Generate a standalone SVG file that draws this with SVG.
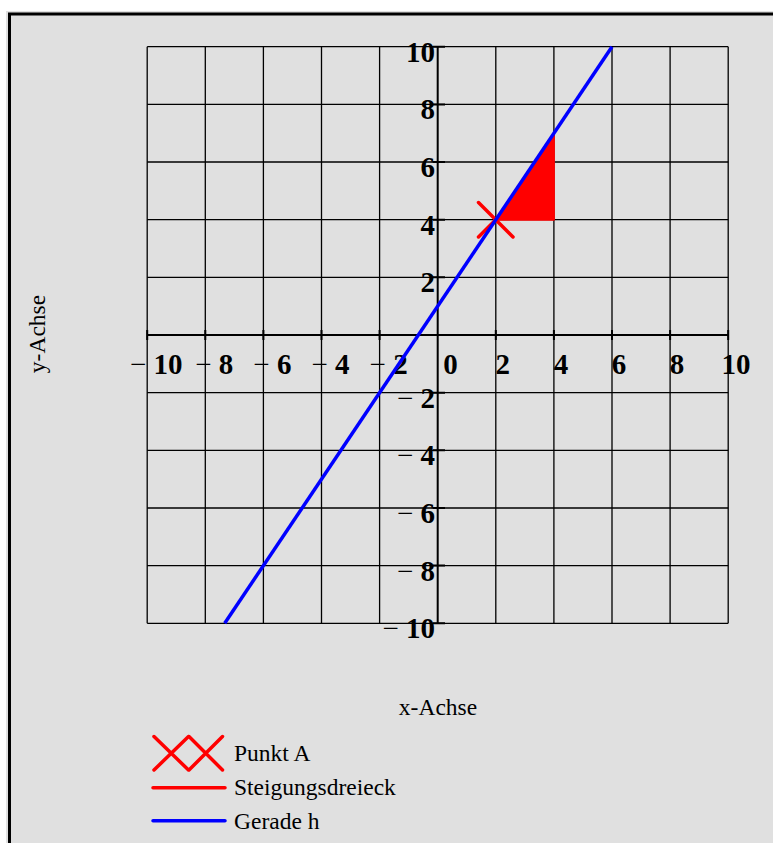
<svg xmlns="http://www.w3.org/2000/svg" width="773" height="843" viewBox="0 0 773 843">
<style>
.grid{stroke:#000;stroke-width:1.3;fill:none}
.axis{stroke:#000;stroke-width:2;fill:none}
.tick{stroke:#000;stroke-width:2}
.num{font-family:"Liberation Serif","Times New Roman",serif;font-weight:bold;font-size:29px;fill:#000}
.mn{font-weight:normal}
.lbl{font-family:"Liberation Serif","Times New Roman",serif;font-size:23.5px;fill:#000}
.xmark{stroke:#ff0000;stroke-width:3.5;stroke-linecap:round;fill:none}
</style>
<rect x="0" y="0" width="773" height="843" fill="#fff"/>
<rect x="6" y="11" width="767" height="832" fill="#e0e0e0"/>
<path d="M9.5 843V14H773" stroke="#000" stroke-width="3" fill="none"/>
<g id="grid">
<path class="grid" d="M147.2 46.7V623.3M205.3 46.7V623.3M263.4 46.7V623.3M321.5 46.7V623.3M379.6 46.7V623.3M495.8 46.7V623.3M553.9 46.7V623.3M612 46.7V623.3M670.1 46.7V623.3M728.2 46.7V623.3"/>
<path class="grid" d="M147.2 46.7H728.2M147.2 104.4H728.2M147.2 162H728.2M147.2 219.7H728.2M147.2 277.3H728.2M147.2 392.7H728.2M147.2 450.3H728.2M147.2 508H728.2M147.2 565.6H728.2M147.2 623.3H728.2"/>
<path class="axis" d="M147.2 335H728.2M437.7 46.7V623.3"/>
<path class="tick" d="M147.2 330V340M205.3 330V340M263.4 330V340M321.5 330V340M379.6 330V340M495.8 330V340M553.9 330V340M612 330V340M670.1 330V340M728.2 330V340"/>
<path class="tick" d="M433 46.7H445M433 104.4H445M433 162H445M433 219.7H445M433 277.3H445M433 335H445M433 392.7H445M433 450.3H445M433 508H445M433 565.6H445M433 623.3H445"/>
</g>
<g id="xlabels" class="num" text-anchor="middle">
<text x="156.2" y="374"><tspan class="mn">−</tspan> 10</text>
<text x="214.3" y="374"><tspan class="mn">−</tspan> 8</text>
<text x="272.4" y="374"><tspan class="mn">−</tspan> 6</text>
<text x="330.5" y="374"><tspan class="mn">−</tspan> 4</text>
<text x="388.6" y="374"><tspan class="mn">−</tspan> 2</text>
<text x="450.5" y="374">0</text>
<text x="502.8" y="374">2</text>
<text x="560.9" y="374">4</text>
<text x="619" y="374">6</text>
<text x="677.1" y="374">8</text>
<text x="736" y="374">10</text>
</g>
<g id="ylabels" class="num" text-anchor="end">
<text x="435" y="61.7">10</text>
<text x="435" y="119.4">8</text>
<text x="435" y="177">6</text>
<text x="435" y="234.7">4</text>
<text x="435" y="292.3">2</text>
<text x="435" y="407.7"><tspan class="mn">−</tspan> 2</text>
<text x="435" y="465.3"><tspan class="mn">−</tspan> 4</text>
<text x="435" y="523"><tspan class="mn">−</tspan> 6</text>
<text x="435" y="580.6"><tspan class="mn">−</tspan> 8</text>
<text x="435" y="638.3"><tspan class="mn">−</tspan> 10</text>
</g>
<g id="triangle">
<path d="M495.8 219.7H553.9V133.2Z" fill="#ff0000" stroke="#ff0000" stroke-width="2" stroke-linejoin="round"/>
</g>
<g id="pointA">
<path class="xmark" d="M478.5 202.5L513 237M478.5 237L513 202.5"/>
</g>
<g id="lineh">
<path d="M224.7 623.3L612 46.7" stroke="#0000ff" stroke-width="3.5" fill="none"/>
</g>
<g id="axislabels" class="lbl">
<text x="438" y="715" text-anchor="middle">x-Achse</text>
<text transform="translate(45 334) rotate(-90)" text-anchor="middle">y-Achse</text>
</g>
<g id="legend">
<path class="xmark" d="M154 736.5L188.5 770M154 770L188.5 736.5M189 736.5L222.5 770M189 770L222.5 736.5"/>
<path d="M153 787.7H225" stroke="#ff0000" stroke-width="3.5" stroke-linecap="round"/>
<path d="M153 820.7H225" stroke="#0000ff" stroke-width="3.5" stroke-linecap="round"/>
<text class="lbl" x="234" y="761">Punkt A</text>
<text class="lbl" x="234" y="795">Steigungsdreieck</text>
<text class="lbl" x="234" y="829">Gerade h</text>
</g>
</svg>
